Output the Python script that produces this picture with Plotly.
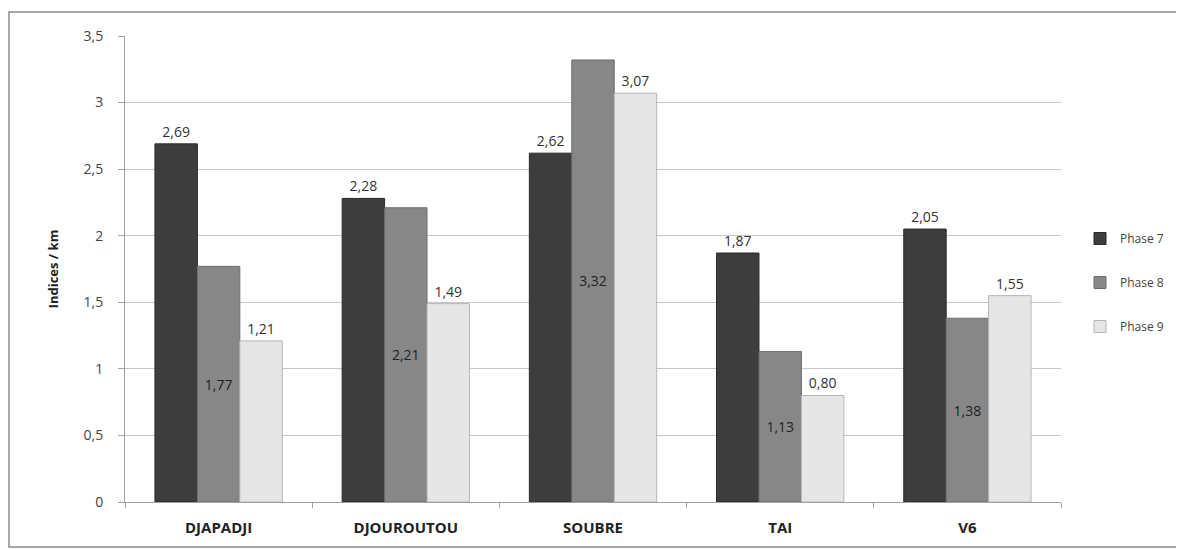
import plotly.graph_objects as go

# Data
sites = ["DJAPADJI", "DJOUROUTOU", "SOUBRE", "TAI", "V6"]
phase7 = [2.69, 2.28, 2.62, 1.87, 2.05]
phase8 = [1.77, 2.21, 3.32, 1.13, 1.38]
phase9 = [1.21, 1.49, 3.07, 0.80, 1.55]
y_ticks = [0, 0.5, 1, 1.5, 2, 2.5, 3, 3.5]
y_tick_labels = ["0", "0,5", "1", "1,5", "2", "2,5", "3", "3,5"]


def fr(vals):
    return [f"{v:.2f}".replace(".", ",") for v in vals]


FONT = "Open Sans, Liberation Sans, sans-serif"
series = [
    ("Phase 7", phase7, "#3d3d3d", "#2a2a2a", "outside"),
    ("Phase 8", phase8, "#878787", "#6e6e6e", "inside"),
    ("Phase 9", phase9, "#e6e6e6", "#b5b5b5", "outside"),
]

fig = go.Figure()
for name, vals, color, edge, pos in series:
    fig.add_trace(go.Bar(
        name=name, x=sites, y=vals, legendgroup=name,
        marker=dict(color=color, line=dict(color=edge, width=1)),
        text=fr(vals), textposition=pos,
        insidetextanchor="middle",
        textfont=dict(family=FONT, size=14, color="#333333"),
        outsidetextfont=dict(family=FONT, size=14, color="#333333"),
        insidetextfont=dict(family=FONT, size=14, color="#222222"),
        cliponaxis=False,
    ))

# page body has an 8px margin, so the figure is sized to fit the window
OFF = 8
W, H = 1184 - OFF, 550 - OFF
L, T = 125 - OFF, 36 - OFF
R, B = W - (1061 - OFF), H - (502 - OFF)
pw, ph = W - L - R, H - T - B


def px_x(p):
    return (p - OFF - L) / pw


def px_y(p):
    return 1 - (p - OFF - T) / ph


fig.update_layout(
    width=W, height=H,
    margin=dict(l=L, r=R, t=T, b=B, autoexpand=False),
    plot_bgcolor="white", paper_bgcolor="white",
    barmode="group", bargap=0.32, bargroupgap=0,
    font=dict(family=FONT, size=12, color="#333333"),
    legend=dict(
        x=px_x(1080), y=px_y(224), xanchor="left", yanchor="top",
        font=dict(family=FONT, size=12, color="#444444"),
        tracegroupgap=25, itemwidth=30,
    ),
    xaxis=dict(
        showline=True, linecolor="#a0a0a0", linewidth=1,
        ticks="outside", tickson="boundaries", ticklen=5, tickcolor="#a0a0a0",
        ticklabelstandoff=12,
        tickfont=dict(family=FONT, size=15, color="#222222", weight="bold"),
        range=[-0.5, 4.5],
    ),
    yaxis=dict(
        range=[0, 3.5], tickvals=y_ticks, ticktext=y_tick_labels,
        showgrid=True, gridcolor="#c8c8c8", gridwidth=1,
        showline=True, linecolor="#a0a0a0", linewidth=1,
        ticks="outside", ticklen=6, tickcolor="#a0a0a0",
        ticklabelstandoff=12,
        tickfont=dict(family=FONT, size=14, color="#444444"),
        zeroline=False,
        title=dict(text="Indices / km", standoff=22,
                   font=dict(family=FONT, size=13, color="#222222", weight="bold")),
    ),
    shapes=[dict(
        type="rect", xref="paper", yref="paper",
        x0=px_x(9), x1=px_x(1179), y0=px_y(12), y1=px_y(547),
        line=dict(color="#8a8a8a", width=1.5), fillcolor="rgba(0,0,0,0)",
        layer="below",
    )],
)

fig.write_html("out.html")
